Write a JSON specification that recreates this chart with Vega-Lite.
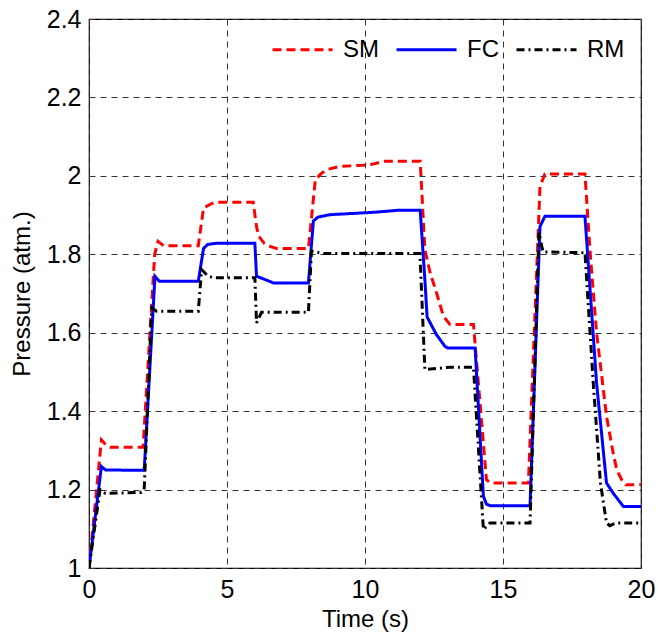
{
  "$schema": "https://vega.github.io/schema/vega-lite/v6.json",
  "width": 552,
  "height": 549,
  "autosize": {"type": "none"},
  "padding": {"left": 89, "top": 19, "right": 17, "bottom": 68},
  "background": "white",
  "config": {
    "font": "Liberation Sans",
    "view": {"stroke": "#000", "strokeWidth": 1.2},
    "axis": {
      "domain": false,
      "ticks": false,
      "tickSize": 0,
      "grid": true,
      "gridColor": "#333",
      "gridDash": [6, 5],
      "gridWidth": 1,
      "labelFlush": false,
      "labelOverlap": false,
      "labelFont": "Liberation Sans",
      "labelFontSize": 25,
      "labelColor": "#000",
      "titleFont": "Liberation Sans",
      "titleFontSize": 24,
      "titleFontWeight": "normal",
      "titleColor": "#000"
    },
    "legend": {
      "labelFont": "Liberation Sans",
      "labelFontSize": 24,
      "labelColor": "#000",
      "padding": 0
    }
  },
  "data": {
    "values": [
      {"t": 0, "p": 1.0, "s": "SM"},
      {"t": 0.45, "p": 1.327, "s": "SM"},
      {"t": 0.6, "p": 1.315, "s": "SM"},
      {"t": 0.76, "p": 1.308, "s": "SM"},
      {"t": 1.96, "p": 1.308, "s": "SM"},
      {"t": 2.38, "p": 1.8, "s": "SM"},
      {"t": 2.5, "p": 1.833, "s": "SM"},
      {"t": 2.7, "p": 1.822, "s": "SM"},
      {"t": 3.96, "p": 1.822, "s": "SM"},
      {"t": 4.15, "p": 1.918, "s": "SM"},
      {"t": 4.4, "p": 1.928, "s": "SM"},
      {"t": 4.6, "p": 1.933, "s": "SM"},
      {"t": 5.95, "p": 1.933, "s": "SM"},
      {"t": 6.07, "p": 1.87, "s": "SM"},
      {"t": 6.15, "p": 1.846, "s": "SM"},
      {"t": 6.35, "p": 1.828, "s": "SM"},
      {"t": 6.56, "p": 1.82, "s": "SM"},
      {"t": 6.8, "p": 1.815, "s": "SM"},
      {"t": 7.95, "p": 1.815, "s": "SM"},
      {"t": 8.2, "p": 1.99, "s": "SM"},
      {"t": 8.4, "p": 2.005, "s": "SM"},
      {"t": 8.61, "p": 2.016, "s": "SM"},
      {"t": 9.09, "p": 2.024, "s": "SM"},
      {"t": 9.94, "p": 2.027, "s": "SM"},
      {"t": 10.3, "p": 2.03, "s": "SM"},
      {"t": 10.66, "p": 2.037, "s": "SM"},
      {"t": 12.0, "p": 2.037, "s": "SM"},
      {"t": 12.17, "p": 1.812, "s": "SM"},
      {"t": 12.36, "p": 1.753, "s": "SM"},
      {"t": 12.6, "p": 1.7, "s": "SM"},
      {"t": 12.84, "p": 1.642, "s": "SM"},
      {"t": 13.08, "p": 1.621, "s": "SM"},
      {"t": 13.93, "p": 1.621, "s": "SM"},
      {"t": 14.4, "p": 1.225, "s": "SM"},
      {"t": 14.55, "p": 1.217, "s": "SM"},
      {"t": 15.92, "p": 1.217, "s": "SM"},
      {"t": 16.34, "p": 1.973, "s": "SM"},
      {"t": 16.52, "p": 2.005, "s": "SM"},
      {"t": 17.97, "p": 2.005, "s": "SM"},
      {"t": 18.15, "p": 1.812, "s": "SM"},
      {"t": 18.39, "p": 1.6, "s": "SM"},
      {"t": 18.75, "p": 1.387, "s": "SM"},
      {"t": 19.0, "p": 1.29, "s": "SM"},
      {"t": 19.12, "p": 1.251, "s": "SM"},
      {"t": 19.3, "p": 1.225, "s": "SM"},
      {"t": 19.45, "p": 1.212, "s": "SM"},
      {"t": 20, "p": 1.212, "s": "SM"},

      {"t": 0, "p": 1.0, "s": "FC"},
      {"t": 0.45, "p": 1.259, "s": "FC"},
      {"t": 0.6, "p": 1.25, "s": "FC"},
      {"t": 2.0, "p": 1.249, "s": "FC"},
      {"t": 2.39, "p": 1.744, "s": "FC"},
      {"t": 2.55, "p": 1.731, "s": "FC"},
      {"t": 3.96, "p": 1.731, "s": "FC"},
      {"t": 4.15, "p": 1.815, "s": "FC"},
      {"t": 4.3, "p": 1.825, "s": "FC"},
      {"t": 4.6, "p": 1.828, "s": "FC"},
      {"t": 6.01, "p": 1.828, "s": "FC"},
      {"t": 6.07, "p": 1.744, "s": "FC"},
      {"t": 6.4, "p": 1.735, "s": "FC"},
      {"t": 6.68, "p": 1.727, "s": "FC"},
      {"t": 7.95, "p": 1.727, "s": "FC"},
      {"t": 8.13, "p": 1.885, "s": "FC"},
      {"t": 8.3, "p": 1.895, "s": "FC"},
      {"t": 8.73, "p": 1.901, "s": "FC"},
      {"t": 10.3, "p": 1.907, "s": "FC"},
      {"t": 11.15, "p": 1.912, "s": "FC"},
      {"t": 12.0, "p": 1.912, "s": "FC"},
      {"t": 12.17, "p": 1.735, "s": "FC"},
      {"t": 12.25, "p": 1.64, "s": "FC"},
      {"t": 12.59, "p": 1.595, "s": "FC"},
      {"t": 12.9, "p": 1.565, "s": "FC"},
      {"t": 13.0, "p": 1.561, "s": "FC"},
      {"t": 13.99, "p": 1.561, "s": "FC"},
      {"t": 14.29, "p": 1.183, "s": "FC"},
      {"t": 14.4, "p": 1.163, "s": "FC"},
      {"t": 14.53, "p": 1.159, "s": "FC"},
      {"t": 15.98, "p": 1.159, "s": "FC"},
      {"t": 16.34, "p": 1.871, "s": "FC"},
      {"t": 16.52, "p": 1.897, "s": "FC"},
      {"t": 17.97, "p": 1.897, "s": "FC"},
      {"t": 18.39, "p": 1.472, "s": "FC"},
      {"t": 18.75, "p": 1.217, "s": "FC"},
      {"t": 19.0, "p": 1.19, "s": "FC"},
      {"t": 19.36, "p": 1.157, "s": "FC"},
      {"t": 20, "p": 1.157, "s": "FC"},

      {"t": 0, "p": 1.0, "s": "RM"},
      {"t": 0.4, "p": 1.2, "s": "RM"},
      {"t": 0.6, "p": 1.19, "s": "RM"},
      {"t": 1.9, "p": 1.193, "s": "RM"},
      {"t": 2.0, "p": 1.2, "s": "RM"},
      {"t": 2.27, "p": 1.663, "s": "RM"},
      {"t": 2.45, "p": 1.655, "s": "RM"},
      {"t": 3.96, "p": 1.655, "s": "RM"},
      {"t": 4.08, "p": 1.761, "s": "RM"},
      {"t": 4.3, "p": 1.745, "s": "RM"},
      {"t": 4.5, "p": 1.74, "s": "RM"},
      {"t": 6.01, "p": 1.74, "s": "RM"},
      {"t": 6.07, "p": 1.625, "s": "RM"},
      {"t": 6.25, "p": 1.652, "s": "RM"},
      {"t": 7.95, "p": 1.652, "s": "RM"},
      {"t": 8.06, "p": 1.808, "s": "RM"},
      {"t": 8.5, "p": 1.802, "s": "RM"},
      {"t": 11.99, "p": 1.802, "s": "RM"},
      {"t": 12.17, "p": 1.506, "s": "RM"},
      {"t": 13.08, "p": 1.512, "s": "RM"},
      {"t": 13.93, "p": 1.512, "s": "RM"},
      {"t": 14.29, "p": 1.098, "s": "RM"},
      {"t": 14.53, "p": 1.115, "s": "RM"},
      {"t": 15.98, "p": 1.115, "s": "RM"},
      {"t": 16.3, "p": 1.855, "s": "RM"},
      {"t": 16.45, "p": 1.806, "s": "RM"},
      {"t": 17.97, "p": 1.804, "s": "RM"},
      {"t": 18.27, "p": 1.472, "s": "RM"},
      {"t": 18.53, "p": 1.217, "s": "RM"},
      {"t": 18.75, "p": 1.115, "s": "RM"},
      {"t": 18.87, "p": 1.108, "s": "RM"},
      {"t": 19.1, "p": 1.115, "s": "RM"},
      {"t": 20, "p": 1.115, "s": "RM"}
    ]
  },
  "mark": {"type": "line", "strokeWidth": 3, "clip": true},
  "encoding": {
    "x": {
      "field": "t",
      "type": "quantitative",
      "scale": {"domain": [0, 20], "nice": false, "zero": false},
      "axis": {"values": [0, 5, 10, 15, 20], "title": "Time (s)", "labelPadding": 9, "titlePadding": 5}
    },
    "y": {
      "field": "p",
      "type": "quantitative",
      "scale": {"domain": [1, 2.4], "nice": false, "zero": false},
      "axis": {"values": [1, 1.2, 1.4, 1.6, 1.8, 2, 2.2, 2.4], "format": "~g", "title": "Pressure (atm.)", "labelPadding": 8, "titlePadding": 12}
    },
    "color": {
      "field": "s",
      "type": "nominal",
      "scale": {"domain": ["SM", "FC", "RM"], "range": ["#ff0000", "#0000ff", "#000000"]},
      "legend": {
        "title": null,
        "orient": "none",
        "legendX": 182,
        "legendY": -1,
        "direction": "horizontal",
        "symbolType": "stroke",
        "symbolSize": 3600,
        "symbolStrokeWidth": 3,
        "labelOffset": 9,
        "columnPadding": 11
      }
    },
    "strokeDash": {
      "field": "s",
      "type": "nominal",
      "scale": {"domain": ["SM", "FC", "RM"], "range": [[9, 5], [1, 0], [8, 4, 2, 4]]},
      "legend": {
        "title": null,
        "orient": "none",
        "legendX": 182,
        "legendY": -1,
        "direction": "horizontal",
        "symbolType": "stroke",
        "symbolSize": 3600,
        "symbolStrokeWidth": 3,
        "labelOffset": 9,
        "columnPadding": 11
      }
    }
  }
}
